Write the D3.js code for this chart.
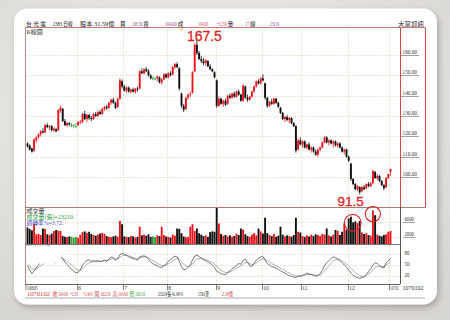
<!DOCTYPE html>
<html><head><meta charset="utf-8">
<script src="https://cdn.jsdelivr.net/npm/d3@7"></script>
<style>
html,body{margin:0;padding:0;width:450px;height:320px;overflow:hidden;background:#e4e2df;}
svg{display:block;}
</style></head><body>
<svg id="c" width="450" height="320"></svg>
<script>
// [open, high, low, close]
const candles = [
[116.5,117,114.5,115],[115.5,116,113,113.5],[114,114.5,112,112.5],[113,119,112.5,118.5],[118,120,117,119.5],
[119.5,121.5,119,121],[121,123,120,122.5],[122.5,124,121.5,121.8],[122,126,121.5,125.5],[125.5,126.5,124,124.5],
[124.5,125.5,123,125],[125,125.5,122.5,123],[123,124.5,122,123.8],[123.5,124,122,122.5],[123,133.5,122.5,133],
[132.5,135,131.5,134],[133.5,134,127,127.5],[127.5,128.5,125,125.5],[125.5,127,124.5,126.5],[126.5,127,125,125.8],
[125.5,126.5,124.5,125.5],[125.5,126,124,125.5],[125,126.5,124,125],[125.5,127.5,125,127],[127,128,126,127.2],
[127,131.5,126.5,131],[131,132.5,128,128.5],[128.5,131,127,130.5],[130.5,131,128,129],[129,130,127.5,128.5],
[128.5,131.5,128,131],[131,132,129.5,130],[130,132.5,129.5,132],[132,133,130.5,131],[131,134,130.5,133.5],
[133.5,135,132.5,134.5],[134.5,135.5,133,133.8],[134,137,133.5,136.5],[136.5,138.5,135.5,138],[138,139,136,136.5],
[136.5,137,133.5,134],[134.5,139,134,138.5],[138.5,148.5,138,147.5],[147,148,143.5,144.5],[144.5,145.5,142,142.5],
[142.5,144.5,141.5,144],[144,144.5,141.5,142],[142,143.5,141,143],[143,144,141.5,142],[142,143.8,141,143.5],
[143.5,144.5,142,143],[143.5,152.5,143,152],[152,153.5,150.5,151],[151,153.5,150.5,153],[153,154,151.5,152],
[152,153,149.5,150],[150,150.5,148,148.5],[148.5,149.5,147.5,148.5],[148.5,149,147.5,148.5],[148.5,150,147,149.5],
[149,149.5,146,146.5],[146.5,148.5,145.5,148],[148,151,147.5,150.5],[150.5,151,148.5,149],[149,151.5,148.5,151],
[151,152,149.5,150],[150.5,154.5,150,154],[154,156,153,155.5],[155.5,156.5,153.5,154],[153.5,154,142.5,143.5],
[141,141.5,134,135],[135,136,132,133],[133.5,139.5,133,139],[139,141,138,140.5],[140.5,142,139.5,141],
[141.5,152,141,151.5],[152,166,151.5,165],[165,167.5,160,161],[161,162,157.5,158],[158,159.5,156,157],
[157,158.5,155,156],[156,158,154.5,157.5],[157,157.5,154,154.5],[154.5,155.5,152.5,153],[153,153.5,151.5,152],
[151.5,152,148.5,149],[147.5,148,134,135],[135,139.5,134.5,138.5],[138.5,139,135.5,136],[136,138,134.5,137.5],
[137.5,138.5,135,135.5],[136,140.5,135.5,140],[140,141,138.5,139],[139,141.5,138.5,141],[141,142,139,139.5],
[139.5,142.5,139,142],[142,143,140,140.5],[140.5,141,137,137.5],[137.5,145.5,137,145],[144.5,145,138.5,139],
[139,140.5,137,138],[138,140,137.5,139.5],[139.5,142.5,139,142],[142,145,141.5,144.5],[144.5,147.5,144,147],
[147,148,145.5,146],[146,149,145.5,148.5],[148.5,150.5,147,147.5],[146,146.5,138,139],[139,139.5,134,135],
[135,137.5,134.5,137],[137,138.5,135.5,136],[136,139,135.5,138.5],[138.5,139,136,136.5],[136.5,137,134,134.5],
[134,134.5,131,131.5],[131.5,132,128,128.5],[128.5,130,127,129.5],[129.5,130.5,127.5,128],[128,129.5,126.5,129],
[129,129.5,126,126.5],[126.5,127,124.5,125],[125,125.5,112,113],[113.5,119,113,118],[118,119.5,115.5,116],
[116,118,114.5,117.5],[117.5,118,114,114.5],[114.5,116.5,113.5,116],[116,117,113,113.5],[113.5,115,112,114.5],
[114.5,115,112,112.5],[112.5,113.5,110.5,111],[111,114,110,113.5],[113.5,115,112.5,114.5],[114.5,117.5,114,117],
[117,120,116.5,119.5],[119.5,120,116.5,117],[117,118.5,115.5,118],[118,118.5,116,116.5],[116.5,118,114.5,117.5],
[117.5,118,115,115.5],[115.5,117,114.5,116.5],[116.5,117,114,114.5],[114.5,115,112,112.5],[112.5,114,111,113.5],
[113.5,114,109.5,110],[110,110.5,107.5,108],[106.5,107,98,99],[99,99.5,96,96.5],[96.5,97,93.5,94],
[94,96,93,95.5],[95,95.5,91.5,92.5],[93,95.5,92.5,95],[95,96,93.5,94],[94.5,97,94,96.5],
[96.5,97.5,95,95.5],[95.5,97.5,95,97],[97,103.5,96.5,103],[102.5,103,99,99.5],[99.5,101.5,98.5,100.5],
[100.5,101,97.5,98],[98,98.5,95.5,96],[96,96.5,93.5,94.5],[95,100,94.5,99.5],[99.5,101.5,99,101.5],
[102.5,104,100.5,104]
];
const volumes = [
4600,4200,3800,5500,2700,2800,2500,4300,4200,2700,2500,2900,3600,3900,3700,3600,2200,2000,1900,2100,
2000,1800,2000,1700,2600,3300,3500,3100,3400,2800,2500,2300,2600,2900,3100,2800,2200,2000,1900,2100,
2300,2000,6400,5500,2100,2000,1900,2200,2100,1800,2000,4800,2400,2600,2300,2700,2000,2100,1900,2400,
2200,4800,2500,2100,2000,1800,2600,2300,4300,4200,3000,2100,1900,2000,4800,5500,3600,4300,3000,2600,
2200,2400,2000,3300,3500,3400,10000,5700,2800,2300,2500,2100,2400,2000,2200,2900,2500,4300,4000,2700,
2200,2000,2600,3000,2400,4300,3500,2900,7300,3000,2500,2200,2800,2000,2300,4800,2600,2100,2400,2200,
2000,2500,7300,3400,3200,2200,2000,2400,2100,2600,2200,2700,2500,2200,2800,2600,4300,2400,2100,2600,
3900,3700,2500,3400,5700,4000,7100,7600,6000,6300,5800,6400,3200,2800,3000,2500,2300,9300,8000,2600,
2300,2100,2500,2700,3400,3600
];
const kLine = [
48,36,26,34,42,50,58,60,67,66,67,60,59,54,68,74,68,58,52,45,
39,33,29,30,36,50,56,63,64,60,62,60,62,59,61,63,61,66,72,70,
63,68,78,82,79,77,72,70,67,66,63,72,74,75,72,66,58,54,50,49,
44,43,48,52,60,64,70,74,72,60,46,37,38,44,50,64,74,77,73,69,
64,62,58,55,50,44,33,30,26,25,23,30,34,40,43,50,54,52,62,66,
58,48,46,55,63,68,72,73,64,54,50,46,44,41,38,34,31,28,24,21,
19,17,16,20,19,22,24,28,25,24,22,20,21,26,36,48,56,62,68,72,
70,66,62,56,50,44,36,28,22,18,16,14,15,18,24,32,40,50,56,54,
48,44,42,56,62,66.94
];
const dLine = [
52,47,40,38,39,43,48,52,57,60,62,62,61,59,62,66,67,64,60,55,
50,44,39,36,36,41,46,52,56,57,59,59,60,60,60,61,61,63,66,67,
66,67,71,75,76,76,75,73,71,69,67,69,71,72,72,70,66,62,58,55,
51,48,48,49,53,57,61,65,68,65,59,52,47,46,47,53,60,66,68,68,
67,65,63,60,57,53,46,41,36,32,29,29,31,34,37,41,45,47,52,57,
57,54,51,52,56,60,64,67,66,62,58,54,51,48,45,41,38,35,31,28,
25,22,20,20,20,21,22,24,24,24,23,22,22,23,27,34,41,48,55,61,
64,65,64,61,57,53,47,41,35,29,25,21,19,19,21,25,30,37,43,47,
47,46,46,50,54,59.11
];
const priceTicks = [100,110,120,130,140,150,160];
const volTicks = [2000,6000];
const kdTicks = [20,50,80];
const monthStarts = [23,44,64,86,107,125,146,165];
const monthLabels = ["6","7","8","9","10","11","12","10701"];
const firstDateLabel = "10605";
const lastDateLabel = "1070102";
const highLabel = "167.5", lowLabel = "91.5";
const highIndex = 77, lowIndex = 151;

const svg = d3.select("#c");
const defs = svg.append("defs");
const bg = defs.append("radialGradient").attr("id","bg").attr("cx","45%").attr("cy","35%").attr("r","75%");
bg.append("stop").attr("offset","0%").attr("stop-color","#f3f2f0");
bg.append("stop").attr("offset","100%").attr("stop-color","#d8d6d2");
const sh = defs.append("filter").attr("id","sh").attr("x","-10%").attr("y","-10%").attr("width","125%").attr("height","125%");
sh.append("feDropShadow").attr("dx",2).attr("dy",3).attr("stdDeviation",3).attr("flood-color","#5a5048").attr("flood-opacity",0.4);

svg.append("rect").attr("width",450).attr("height",320).attr("fill","url(#bg)");
svg.append("rect").attr("x",14).attr("y",8.5).attr("width",423).attr("height",296).attr("rx",14)
  .attr("fill","#fff").attr("filter","url(#sh)");

const L = 25, R = 400, R2 = 425;
const mainTop = 27.5, mainBot = 207, volBot = 244, kdBot = 284;
const N = candles.length;
const x = d3.scaleLinear().domain([0, N-1]).range([27.5, 390.5]);
const yP = d3.scaleLinear().domain([100,160]).range([177,55]);
const yV = d3.scaleLinear().domain([0,6000]).range([volBot, volBot-21.6]);
const yK = d3.scaleLinear().domain([20,80]).range([276,254]);

const serif = "'Liberation Serif','Noto Sans CJK TC',serif";
const grid = "#d2c59c";

// gridlines
const g = svg.append("g");
function hgrid(y){ g.append("line").attr("x1",L).attr("x2",R).attr("y1",y).attr("y2",y)
  .attr("stroke",grid).attr("stroke-width",0.7).attr("stroke-dasharray","1,1.5"); }
priceTicks.forEach(t=>hgrid(Math.round(yP(t))+0.5));
volTicks.forEach(t=>hgrid(Math.round(yV(t))+0.5));
kdTicks.forEach(t=>hgrid(Math.round(yK(t))+0.5));
monthStarts.forEach(i=>{
  const xx = Math.round(x(i)-1.1)+0.5;
  g.append("line").attr("x1",xx).attr("x2",xx).attr("y1",mainTop).attr("y2",kdBot)
   .attr("stroke",grid).attr("stroke-width",0.7).attr("stroke-dasharray","1,1.5");
});

const col = d => d[3]>d[0] ? "#e8171f" : (d[3]<d[0] ? "#111" : "#2f9e35");
const BW = 1.9;
// candles
const cg = svg.append("g");
candles.forEach((d,i)=>{
  const cx = x(i), c = col(d);
  cg.append("line").attr("x1",cx).attr("x2",cx).attr("y1",yP(d[1])).attr("y2",yP(d[2]))
    .attr("stroke",c).attr("stroke-width",0.8);
  const top = yP(Math.max(d[0],d[3])), bot = yP(Math.min(d[0],d[3]));
  cg.append("rect").attr("x",cx-BW/2).attr("width",BW).attr("y",top).attr("height",Math.max(0.8,bot-top)).attr("fill",c);
});
// volume
const vg = svg.append("g");
volumes.forEach((v,i)=>{
  vg.append("rect").attr("x",x(i)-BW/2).attr("width",BW).attr("y",yV(v)).attr("height",yV(0)-yV(v))
    .attr("fill",col(candles[i]));
});
// KD lines
const ln = d3.line().x((d,i)=>x(i)).y(d=>yK(d)).curve(d3.curveLinear);
svg.append("path").attr("d",ln(dLine)).attr("fill","none").attr("stroke","#9a9a9a").attr("stroke-width",0.8);
svg.append("path").attr("d",ln(kLine)).attr("fill","none").attr("stroke","#555").attr("stroke-width",0.8);

// borders
function seg(x1,y1,x2,y2,c,w){ svg.append("line").attr("x1",x1).attr("y1",y1).attr("x2",x2).attr("y2",y2).attr("stroke",c).attr("stroke-width",w||1); }
seg(L,mainTop,R2,mainTop,"#c97a78");
seg(L+0.5,mainTop,L+0.5,kdBot,"#b98a88");
seg(R+0.5,mainTop,R+0.5,mainBot,"#d84848");
seg(R2+0.5,mainTop,R2+0.5,mainBot,"#d84848");
seg(L,mainBot+0.5,R2+1,mainBot+0.5,"#b07a6c");
seg(R+0.5,mainBot,R+0.5,kdBot,"#555");
seg(L,volBot+0.5,R,volBot+0.5,"#777");
seg(L,kdBot+0.5,R,kdBot+0.5,"#666");
seg(L,298,R2,298,"#aaa");

// fixed-width text: horizontally scaled so its real box matches the reference width
function ftext(sel, xx, yy, str, w, color){
  const t = sel.append("text").attr("x",0).attr("y",0).text(str);
  if (color) t.attr("fill",color);
  let sx = 1;
  if (w) { const nat = t.node().getComputedTextLength(); if (nat > 0) sx = w / nat; }
  t.attr("transform", `translate(${xx},${yy}) scale(${sx},1)`);
  return t;
}

// right axes
const ax = svg.append("g").attr("font-family",serif).attr("font-size",5.6).attr("fill","#333");
priceTicks.forEach(t=>{
  const y = Math.round(yP(t))+0.5;
  seg(401,y,419,y,"#8a8a8a",0.8);
  ftext(ax,402.5,y-1.3,t.toFixed(2),14.5);
});
volTicks.forEach(t=>{
  const y = Math.round(yV(t))+0.5;
  seg(403,y,415,y,"#8a8a8a",0.8);
  ftext(ax,404.5,y-1.3,String(t),9.5);
});
kdTicks.forEach(t=>{
  ftext(ax,404.5,yK(t)+1,String(t),5);
});
// x labels
const xl = svg.append("g").attr("font-family",serif).attr("font-size",5.4).attr("fill","#333");
ftext(xl,26.8,289.6,firstDateLabel,11);
seg(26,284,26,290,"#555",0.7);
monthStarts.forEach((i,k)=>{
  const xx = Math.round(x(i)-1.1)+0.5;
  seg(xx,284,xx,290,"#555",0.7);
  const lab = monthLabels[k];
  ftext(xl,xx+0.8,289.6,lab, lab.length>2 ? 8.5 : null);
});
ftext(xl,402.5,289.6,lastDateLabel,21);

// header
const hd = svg.append("g").attr("font-family",serif).attr("font-size",6.2);
const hdr = [[26,"台 光 電",20,"#222"],[53,"2383 日線",19.5,"#222"],[80,"股本 31.59億",34.5,"#222"],[120,"買",5.5,"#222"],
 [132,"103.50",10.5,"#8a3b8a"],[143.3,"賣",5.5,"#222"],[165,"104.00",11.5,"#8a3b8a"],[177.8,"成",5.5,"#222"],
 [198,"104.00",10,"#c2405a"],[217,"+2.50",9.8,"#c2405a"],[227.8,"量",5.5,"#222"],[245,"17",4.2,"#8a3b8a"],[250,"總",5.5,"#222"],
 [270,"23219",9,"#8a3b8a"],[398,"大富資訊",26,"#222"]];
hdr.forEach(h=>ftext(hd,h[0],25.5,h[1],h[2],h[3]));

// panel labels
const pl = svg.append("g").attr("font-family",serif).attr("font-size",6);
ftext(pl,26.5,34,"K線圖",null,"#333");
ftext(pl,26.5,213,"成交量",null,"#333");
ftext(pl,26.5,219,"成交量(張)=23219.",48,"#2e9a34");
ftext(pl,26.5,225,"週轉率%=3.72.",37,"#4a52c4");
svg.append("rect").attr("x",26).attr("y",245.5).attr("width",35).attr("height",18).attr("fill","#fff");
ftext(pl,26.5,250,"隨機指標",null,"#333");
ftext(pl,26.5,256,"K9=66.94.",27,"#444");
ftext(pl,26.5,262,"D9=59.11.",27,"#4a52c4");

// bottom info line
const bi = svg.append("g").attr("font-family",serif).attr("font-size",5.6);
const info = [[27,"1070102",23,"#d23a3a"],[52.5,"收",4.8,"#d23a3a"],[58,"104.00",10,"#d23a3a"],[70,"+2.50",8,"#d23a3a"],
 [83,"+2.46%",10,"#d23a3a"],[94.5,"開",4.8,"#d23a3a"],[100.5,"102.50",10,"#d23a3a"],[112.5,"高",4.8,"#d23a3a"],[118,"104.00",10,"#d23a3a"],
 [129.5,"低",4.8,"#2e9a34"],[135,"100.50",10,"#2e9a34"],[158,"23219張 41.99%",25,"#222"],[198,"1561筆",11,"#222"],[222,"2.39億",11,"#d23a3a"]];
info.forEach(h=>ftext(bi,h[0],296.2,h[1],h[2],h[3]));

// marker triangle
svg.append("path").attr("d","M179.5,28.5 L183.5,28.5 L181.5,31 Z").attr("fill","#f0d060");

// annotations
const red = "#dc1f22";
svg.append("text").attr("x",x(highIndex)+7.5).attr("y",41).attr("text-anchor","middle")
  .attr("font-family","'Liberation Sans',Arial,sans-serif").attr("font-size",14).attr("fill",red)
  .attr("stroke",red).attr("stroke-width",0.3).text(highLabel);
svg.append("text").attr("x",x(lowIndex)-9).attr("y",206).attr("text-anchor","middle")
  .attr("font-family","'Liberation Sans',Arial,sans-serif").attr("font-size",13.5).attr("fill",red)
  .attr("stroke",red).attr("stroke-width",0.3).text(lowLabel);
svg.append("circle").attr("cx",x(149)-2.6).attr("cy",yV(5900)).attr("r",8.4).attr("fill","none").attr("stroke",red).attr("stroke-width",1.1);
svg.append("circle").attr("cx",x(157)).attr("cy",yV(8300)).attr("r",7.6).attr("fill","none").attr("stroke",red).attr("stroke-width",1.1);
</script>
</body></html>
